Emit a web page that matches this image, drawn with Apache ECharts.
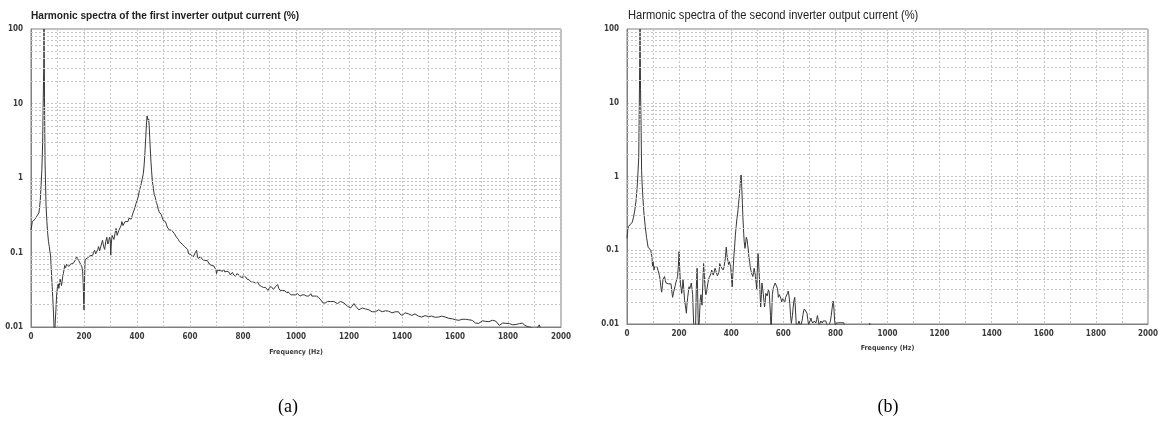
<!DOCTYPE html>
<html>
<head>
<meta charset="utf-8">
<script src="https://cdn.jsdelivr.net/npm/echarts@6/dist/echarts.min.js"></script>
<style>
html,body{margin:0;padding:0;background:#fff;}
#c{width:1161px;height:423px;}
</style>
</head>
<body>
<div id="c"></div>
<script>
// ---------- data ----------
const titleA = 'Harmonic spectra of the first inverter output current (%)';
const titleB = 'Harmonic spectra of the second inverter output current (%)';
const xName = 'Frequency (Hz)';
const panelLabels = ['(a)', '(b)'];
const yTickLabels = ['0.01', '0.1', '1', '10', '100'];

const freqA = [0,5,10,15,20,25,30,35,38,41,44,46,48,49,50,51,53,55,57,60,63,66,69,72,74,76,78,80,82,85,87,89,92,94,97,100,103,105,107,110,112,115,117,120,122,125,127,130,132,135,137,140,142,145,150,155,157,160,165,168,172,175,180,184,187,190,192,195,197,199,200,202,204,207,210,214,218,222,225,229,233,236,240,244,248,252,255,259,263,266,270,274,278,282,286,290,293,296,299,301,303,306,310,313,317,321,325,328,332,336,340,343,347,351,355,358,362,366,370,374,378,381,385,389,392,396,400,404,409,413,416,420,424,427,430,433,436,438,440,442,444,446,448,450,453,455,458,462,465,469,473,477,480,484,488,492,496,499,503,507,511,514,518,522,526,530,534,537,541,545,549,552,556,560,565,570,575,580,584,587,591,595,600,603,607,612,616,620,625,628,631,635,640,644,648,652,656,660,665,669,673,677,681,685,690,694,698,700,703,706,710,715,719,723,727,731,735,740,744,748,752,756,760,765,769,773,777,781,785,790,794,798,802,806,810,815,819,823,827,831,835,840,844,848,852,856,860,865,869,873,877,881,885,890,894,898,902,906,910,915,919,923,927,931,935,940,944,948,952,956,960,965,969,973,977,981,985,990,994,998,1002,1006,1010,1015,1019,1023,1027,1031,1035,1040,1044,1048,1052,1056,1060,1065,1069,1073,1077,1081,1085,1090,1094,1098,1102,1106,1110,1115,1119,1125,1130,1137,1143,1150,1156,1162,1168,1175,1181,1187,1194,1200,1206,1212,1219,1225,1231,1237,1243,1250,1256,1262,1268,1275,1281,1287,1294,1300,1306,1312,1318,1325,1331,1337,1343,1350,1356,1362,1369,1375,1381,1387,1392,1400,1406,1412,1419,1425,1431,1437,1443,1449,1456,1462,1468,1474,1480,1487,1494,1500,1506,1512,1519,1525,1531,1538,1544,1550,1557,1563,1570,1576,1582,1589,1595,1602,1608,1615,1621,1627,1634,1640,1646,1652,1659,1665,1671,1677,1684,1690,1696,1703,1709,1716,1722,1728,1735,1741,1748,1754,1760,1767,1773,1780,1786,1792,1799,1805,1812,1818,1824,1831,1837,1843,1849,1855,1862,1868,1875,1881,1887,1893,1900,1906,1912,1918,1922,1928,1940,2000];
const ampA = [0.2,0.26,0.27,0.28,0.3,0.31,0.34,0.5,0.8,1.3,3,10,30,100,45,12,1.7,0.8,0.41,0.26,0.18,0.14,0.12,0.1,0.09,0.065,0.047,0.035,0.025,0.015,0.01,0.008,0.008,0.017,0.028,0.035,0.038,0.033,0.036,0.044,0.042,0.036,0.038,0.048,0.052,0.06,0.067,0.062,0.064,0.07,0.066,0.068,0.065,0.069,0.07,0.066,0.07,0.072,0.074,0.08,0.089,0.083,0.078,0.075,0.07,0.066,0.064,0.055,0.038,0.02,0.017,0.04,0.08,0.078,0.083,0.085,0.08,0.09,0.095,0.088,0.092,0.1,0.107,0.096,0.095,0.11,0.12,0.105,0.11,0.13,0.146,0.12,0.11,0.14,0.16,0.13,0.14,0.16,0.15,0.092,0.13,0.17,0.16,0.15,0.18,0.21,0.17,0.16,0.2,0.19,0.23,0.26,0.23,0.24,0.26,0.27,0.25,0.26,0.29,0.3,0.28,0.29,0.34,0.37,0.4,0.45,0.47,0.55,0.68,0.76,0.84,0.98,1.15,1.5,2.2,3.5,5.5,6.8,6.5,5.8,6.2,5,3.5,2.5,1.6,1.25,0.9,0.72,0.6,0.55,0.47,0.43,0.38,0.35,0.34,0.32,0.29,0.27,0.26,0.26,0.24,0.22,0.21,0.2,0.2,0.2,0.19,0.19,0.18,0.18,0.16,0.16,0.15,0.14,0.14,0.13,0.13,0.12,0.12,0.116,0.11,0.096,0.1,0.094,0.09,0.087,0.09,0.1,0.107,0.09,0.083,0.085,0.088,0.087,0.08,0.082,0.078,0.076,0.078,0.074,0.07,0.072,0.067,0.07,0.066,0.064,0.058,0.052,0.058,0.061,0.06,0.057,0.058,0.056,0.06,0.055,0.053,0.056,0.058,0.054,0.05,0.052,0.054,0.05,0.05,0.048,0.052,0.055,0.05,0.047,0.048,0.046,0.05,0.052,0.047,0.044,0.042,0.043,0.041,0.04,0.042,0.04,0.038,0.039,0.041,0.04,0.037,0.036,0.035,0.036,0.034,0.033,0.034,0.032,0.031,0.033,0.035,0.035,0.033,0.032,0.033,0.035,0.034,0.037,0.033,0.031,0.03,0.031,0.032,0.031,0.03,0.029,0.028,0.029,0.028,0.027,0.028,0.027,0.026,0.027,0.027,0.028,0.027,0.026,0.026,0.027,0.028,0.027,0.026,0.026,0.025,0.026,0.027,0.028,0.026,0.025,0.026,0.025,0.026,0.027,0.025,0.024,0.023,0.022,0.021,0.0206,0.021,0.022,0.022,0.021,0.022,0.023,0.022,0.021,0.0206,0.021,0.022,0.022,0.021,0.02,0.019,0.0185,0.018,0.019,0.0206,0.019,0.018,0.017,0.0175,0.018,0.018,0.0175,0.0172,0.017,0.0165,0.016,0.0156,0.016,0.0165,0.017,0.0165,0.016,0.0163,0.0165,0.016,0.0163,0.0158,0.0155,0.0156,0.016,0.0158,0.016,0.015,0.0143,0.015,0.0155,0.0155,0.015,0.0146,0.0143,0.0147,0.015,0.0148,0.014,0.0138,0.0136,0.014,0.0142,0.014,0.0138,0.0143,0.014,0.0138,0.0135,0.0136,0.0136,0.0138,0.014,0.0141,0.0136,0.0132,0.0131,0.013,0.0129,0.0127,0.0125,0.0124,0.0123,0.0125,0.0127,0.0126,0.0127,0.0129,0.0125,0.0122,0.0123,0.0118,0.0113,0.011,0.0112,0.0118,0.0121,0.0117,0.0119,0.012,0.0118,0.0122,0.0123,0.0119,0.012,0.0113,0.0105,0.011,0.0113,0.0115,0.0112,0.011,0.0111,0.0109,0.0107,0.0106,0.0108,0.011,0.0111,0.0112,0.0113,0.0106,0.0102,0.0101,0.01,0.0099,0.0096,0.0093,0.0095,0.0099,0.0107,0.0097,0.009,0.0085,0.008];

const freqB = [0,3,6,12,20,25,30,35,40,43,45,47,49,50,51,52,54,56,58,60,63,65,70,75,81,85,88,91,94,96,98,100,102,104,106,109,112,115,118,121,125,128,131,133,136,138,141,144,147,150,153,156,160,163,166,169,172,175,178,181,185,188,191,194,197,200,202,205,208,210,213,215,218,221,224,228,230,233,236,238,241,244,247,250,252,254,256,259,263,266,269,271,273,275,278,281,284,288,291,294,297,300,303,306,310,313,316,319,322,325,328,331,334,338,341,344,347,350,353,356,360,363,366,369,372,375,378,381,383,385,388,390,393,395,398,400,402,404,406,408,411,413,416,419,422,425,428,431,434,436,438,440,443,445,448,450,453,456,458,461,463,466,468,471,473,476,478,481,483,486,488,491,493,496,498,500,503,505,508,511,513,516,518,521,523,526,528,531,533,536,538,541,543,546,548,551,553,556,558,561,563,566,569,572,575,578,581,585,588,591,594,597,600,603,606,609,613,616,619,622,625,628,631,635,638,641,644,647,650,653,656,660,663,666,669,672,675,678,681,684,688,691,694,697,700,703,706,709,713,716,719,722,725,728,731,735,738,741,744,747,750,753,756,760,763,766,769,772,775,778,781,784,788,791,793,795,797,800,803,806,809,812,815,818,821,825,828,832,835,840,900,928,932,936,950,2000];
const ampB = [0.145,0.19,0.21,0.22,0.24,0.28,0.35,0.48,0.8,1.3,1.8,8,40,100,40,15,5,1.2,0.8,0.6,0.4,0.32,0.21,0.15,0.11,0.105,0.11,0.1,0.1,0.08,0.06,0.07,0.062,0.054,0.06,0.063,0.058,0.06,0.062,0.057,0.045,0.037,0.03,0.027,0.033,0.04,0.042,0.044,0.039,0.036,0.038,0.037,0.035,0.034,0.036,0.035,0.028,0.023,0.026,0.029,0.033,0.037,0.04,0.044,0.06,0.096,0.06,0.036,0.03,0.026,0.033,0.04,0.03,0.021,0.018,0.014,0.018,0.023,0.028,0.032,0.03,0.033,0.036,0.037,0.025,0.015,0.0102,0.007,0.008,0.03,0.057,0.03,0.012,0.008,0.012,0.021,0.025,0.018,0.035,0.066,0.045,0.029,0.025,0.028,0.035,0.04,0.043,0.044,0.048,0.054,0.05,0.046,0.05,0.057,0.053,0.05,0.045,0.043,0.05,0.066,0.06,0.062,0.058,0.054,0.058,0.06,0.08,0.11,0.09,0.08,0.07,0.064,0.07,0.074,0.06,0.049,0.04,0.032,0.045,0.06,0.09,0.11,0.16,0.21,0.27,0.32,0.42,0.53,0.75,0.9,1.05,0.8,0.43,0.28,0.17,0.13,0.106,0.13,0.15,0.14,0.12,0.1,0.08,0.07,0.06,0.053,0.049,0.047,0.044,0.05,0.057,0.05,0.044,0.035,0.029,0.05,0.09,0.07,0.044,0.025,0.017,0.025,0.036,0.03,0.026,0.02,0.017,0.021,0.026,0.025,0.024,0.027,0.029,0.027,0.026,0.013,0.008,0.015,0.025,0.03,0.032,0.034,0.036,0.037,0.038,0.03,0.023,0.025,0.026,0.022,0.02,0.022,0.021,0.022,0.02,0.023,0.024,0.026,0.028,0.024,0.019,0.013,0.0102,0.013,0.017,0.021,0.023,0.015,0.0097,0.009,0.0095,0.011,0.0103,0.0092,0.009,0.011,0.013,0.015,0.016,0.016,0.017,0.014,0.0115,0.0098,0.0095,0.011,0.012,0.011,0.0103,0.0105,0.011,0.0108,0.0103,0.0115,0.013,0.011,0.0095,0.0102,0.011,0.0107,0.0103,0.011,0.0112,0.0108,0.011,0.0102,0.0095,0.0098,0.0097,0.0102,0.011,0.013,0.017,0.0205,0.019,0.015,0.011,0.0095,0.0103,0.0105,0.0098,0.0104,0.0105,0.01,0.0104,0.0105,0.01,0.0104,0.0095,0.009,0.008,0.009,0.0102,0.009,0.008,0.008];

// minor log grid levels (2..9 in each decade)
const minorGridLevels = [0.02,0.03,0.04,0.05,0.06,0.07,0.08,0.09,0.2,0.3,0.4,0.5,0.6,0.7,0.8,0.9,2,3,4,5,6,7,8,9,20,30,40,50,60,70,80,90];

// ---------- chart ----------
const NARROW = "'DejaVu Sans Condensed','Liberation Sans',sans-serif";
const gridColor = '#c4c4c4';
const lineColor = '#363636';
const labelColor = '#3a3a3a';

function xAxisCfg(gridIndex, gap) {
  return {
    type: 'value', gridIndex: gridIndex, min: 0, max: 2000, interval: 200,
    name: xName, nameLocation: 'middle', nameGap: gap,
    nameTextStyle: {fontSize: 7, fontWeight: 'bold', color: labelColor, fontFamily: NARROW},
    axisLine: {show: true, lineStyle: {color: '#808080', width: 1}},
    axisTick: {show: false},
    axisLabel: {fontSize: 8, color: labelColor, fontWeight: 'bold', fontFamily: NARROW, margin: 6,
      showMinLabel: true, showMaxLabel: true,
      formatter: function (v) { return String(v); }},
    splitLine: {show: true, lineStyle: {color: gridColor, type: [2, 2], width: 1}},
    minorTick: {show: false, splitNumber: 2},
    minorSplitLine: {show: true, lineStyle: {color: gridColor, type: [2, 2], width: 1}}
  };
}
function yAxisCfg(gridIndex) {
  return {
    type: 'log', logBase: 10, gridIndex: gridIndex, min: 0.01, max: 100,
    axisLine: {show: true, lineStyle: {color: '#808080', width: 1}},
    axisTick: {show: false},
    axisLabel: {fontSize: 8, color: labelColor, fontWeight: 'bold', fontFamily: NARROW, margin: 8,
      formatter: function (v) { return yTickLabels[Math.round(Math.log10(v)) + 2] || ''; }},
    splitLine: {show: true, lineStyle: {color: gridColor, type: [2, 2], width: 1}}
  };
}
function seriesCfg(idx, fx, fy) {
  return {
    type: 'line', xAxisIndex: idx, yAxisIndex: idx,
    data: fx.map(function (f, i) { return [f, fy[i]]; }),
    showSymbol: false, symbol: 'none', clip: true, animation: false,
    lineStyle: {color: lineColor, width: 1},
    markLine: {
      silent: true, animation: false, symbol: ['none', 'none'],
      label: {show: false},
      lineStyle: {color: gridColor, type: [2, 2], width: 1},
      data: minorGridLevels.map(function (v) { return {yAxis: v}; })
    }
  };
}

const chart = echarts.init(document.getElementById('c'), null, {renderer: 'canvas'});
chart.setOption({
  animation: false,
  backgroundColor: '#fff',
  textStyle: {fontFamily: NARROW},
  grid: [
    {left: 31, top: 29, width: 530, height: 298, show: true, borderColor: '#808080', borderWidth: 1, backgroundColor: '#fff'},
    {left: 627, top: 29, width: 532, height: 295, show: true, borderColor: '#808080', borderWidth: 1, backgroundColor: '#fff'}
  ],
  xAxis: [xAxisCfg(0, 22), xAxisCfg(1, 21)],
  yAxis: [yAxisCfg(0), yAxisCfg(1)],
  series: [seriesCfg(0, freqA, ampA), seriesCfg(1, freqB, ampB)],
  graphic: [
    {type: 'text', x: 31, y: 16, scaleX: 0.92, silent: true,
      style: {text: titleA, fill: '#222', font: "bold 11px 'Liberation Sans',Arial,sans-serif", textVerticalAlign: 'middle'}},
    {type: 'text', x: 628, y: 16, scaleX: 0.93, silent: true,
      style: {text: titleB, fill: '#222', font: "12px 'Liberation Sans',Arial,sans-serif", textVerticalAlign: 'middle'}},
    {type: 'text', x: 288, y: 407, silent: true,
      style: {text: panelLabels[0], fill: '#000', font: "18px 'Liberation Serif','DejaVu Serif',serif", textAlign: 'center', textVerticalAlign: 'middle'}},
    {type: 'text', x: 888, y: 407, silent: true,
      style: {text: panelLabels[1], fill: '#000', font: "18px 'Liberation Serif','DejaVu Serif',serif", textAlign: 'center', textVerticalAlign: 'middle'}}
  ]
});
</script>
</body>
</html>
